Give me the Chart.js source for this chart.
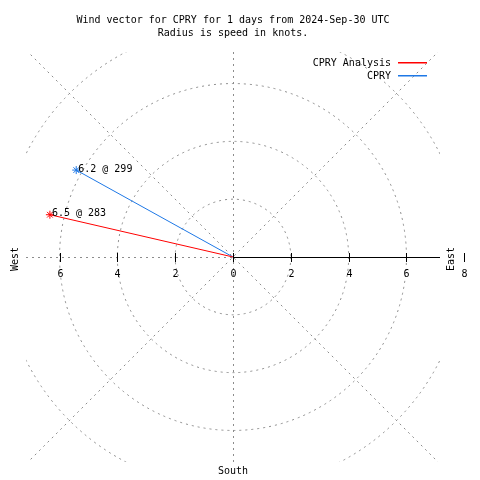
<!DOCTYPE html>
<html>
<head>
<meta charset="utf-8">
<script src="https://cdn.jsdelivr.net/npm/chart.js@4/dist/chart.umd.min.js"></script>
<style>
  body { margin: 0; background: #fff; }
  #wrap { width: 480px; height: 480px; }
</style>
</head>
<body>
<div id="wrap"><canvas id="windChart" width="480" height="480"></canvas></div>
<script>
// Data
const seriesNames = ['CPRY Analysis', 'CPRY'];
const speeds = [6.5, 6.2];          // knots
const directions = [283, 299];      // degrees
const ringValues = [2, 4, 6, 8];    // knots
const tickValues = [-6, -4, -2, 0, 2, 4, 6, 8];
const tickLabels = ['6', '4', '2', '0', '2', '4', '6', '8'];
const titleLines = ['Wind vector for CPRY for 1 days from 2024-Sep-30 UTC', 'Radius is speed in knots.'];

const lineColors = ['rgb(255, 0, 0)', 'rgb(30, 120, 230)'];
const FONT = '10px "DejaVu Sans Mono", "Liberation Mono", monospace';
const GRID = 'rgb(140, 140, 140)';

// vector end point from speed and compass direction (north up)
function endPoint(speed, dir) {
  const a = dir * Math.PI / 180;
  return { x: speed * Math.sin(a), y: speed * Math.cos(a) };
}

const datasets = seriesNames.map((name, i) => ({
  label: name,
  data: [{ x: 0, y: 0 }, endPoint(speeds[i], directions[i])],
  showLine: true,
  borderColor: lineColors[i],
  backgroundColor: lineColors[i],
  borderWidth: 1,
  pointStyle: 'star',
  pointRadius: [0, 4],
  pointBorderWidth: 1,
  pointHoverRadius: 0
}));

// Polar grid, axis, labels and legend
const polarPlugin = {
  id: 'polarGrid',
  beforeDatasetsDraw(chart) {
    const { ctx, chartArea: area, scales: { x, y } } = chart;
    const cx = x.getPixelForValue(0);
    const cy = y.getPixelForValue(0);
    const unit = x.getPixelForValue(1) - cx;

    ctx.save();
    ctx.beginPath();
    ctx.rect(area.left, area.top, area.right - area.left, area.bottom - area.top);
    ctx.clip();
    ctx.strokeStyle = GRID;
    ctx.lineWidth = 1;
    ctx.setLineDash([2, 4]);

    ringValues.forEach(r => {
      ctx.beginPath();
      ctx.arc(cx, cy, r * unit, 0, Math.PI * 2);
      ctx.stroke();
    });

    const far = 1000;
    ctx.beginPath();
    ctx.moveTo(cx - far, cy - far); ctx.lineTo(cx + far, cy + far);
    ctx.moveTo(cx - far, cy + far); ctx.lineTo(cx + far, cy - far);
    ctx.moveTo(Math.round(cx) + 0.5, area.top); ctx.lineTo(Math.round(cx) + 0.5, area.bottom);
    ctx.moveTo(area.left, Math.round(cy) + 0.5); ctx.lineTo(cx, Math.round(cy) + 0.5);
    ctx.stroke();

    // solid east axis
    ctx.setLineDash([]);
    ctx.strokeStyle = '#000';
    ctx.beginPath();
    ctx.moveTo(cx, Math.round(cy) + 0.5); ctx.lineTo(area.right, Math.round(cy) + 0.5);
    ctx.stroke();
    ctx.restore();
  },
  afterDraw(chart) {
    const { ctx, chartArea: area, scales: { x, y } } = chart;
    const cx = x.getPixelForValue(0);
    const cy = Math.round(y.getPixelForValue(0));

    ctx.save();
    ctx.font = FONT;
    ctx.fillStyle = '#000';
    ctx.strokeStyle = '#000';
    ctx.lineWidth = 1;

    // ticks and tick labels
    ctx.textAlign = 'center';
    ctx.textBaseline = 'middle';
    tickValues.forEach((v, i) => {
      const px = Math.round(x.getPixelForValue(v)) + 0.5;
      ctx.beginPath();
      ctx.moveTo(px, cy - 4); ctx.lineTo(px, cy + 5);
      ctx.stroke();
      ctx.fillText(tickLabels[i], px, cy + 17);
    });

    // compass labels
    ctx.fillText('South', cx, area.bottom + 9);
    [['West', 15], ['East', 451]].forEach(([txt, px]) => {
      ctx.save();
      ctx.translate(px, cy + 2);
      ctx.rotate(-Math.PI / 2);
      ctx.fillText(txt, 0, 0);
      ctx.restore();
    });

    // value labels at vector tips
    ctx.textAlign = 'left';
    chart.data.datasets.forEach((ds, i) => {
      const p = ds.data[1];
      ctx.fillText(speeds[i] + ' @ ' + directions[i], x.getPixelForValue(p.x) + 2, y.getPixelForValue(p.y) - 1);
    });

    // legend (text on the left, line sample on the right)
    ctx.textAlign = 'right';
    chart.data.datasets.forEach((ds, i) => {
      const ly = 63 + i * 13;
      ctx.fillStyle = '#000';
      ctx.fillText(ds.label, 391, ly);
      ctx.fillStyle = ds.borderColor;
      ctx.fillRect(398, ly - 1, 29, 1.5);
    });
    ctx.restore();
  }
};

new Chart(document.getElementById('windChart'), {
  type: 'scatter',
  data: { datasets: datasets },
  options: {
    responsive: false,
    animation: false,
    layout: { padding: { left: 26, right: 40, top: 0, bottom: 18 } },
    scales: {
      x: { type: 'linear', display: false, min: -7.16, max: 7.16 },
      y: { type: 'linear', display: false, min: -7.09, max: 7.09 }
    },
    plugins: {
      legend: { display: false },
      tooltip: { enabled: false },
      title: {
        display: true,
        text: titleLines,
        color: '#000',
        font: { family: '"DejaVu Sans Mono", "Liberation Mono", monospace', size: 10, weight: 'normal', lineHeight: 1.3 },
        padding: { top: 13.5, bottom: 12.5 }
      }
    }
  },
  plugins: [polarPlugin]
});
</script>
</body>
</html>
